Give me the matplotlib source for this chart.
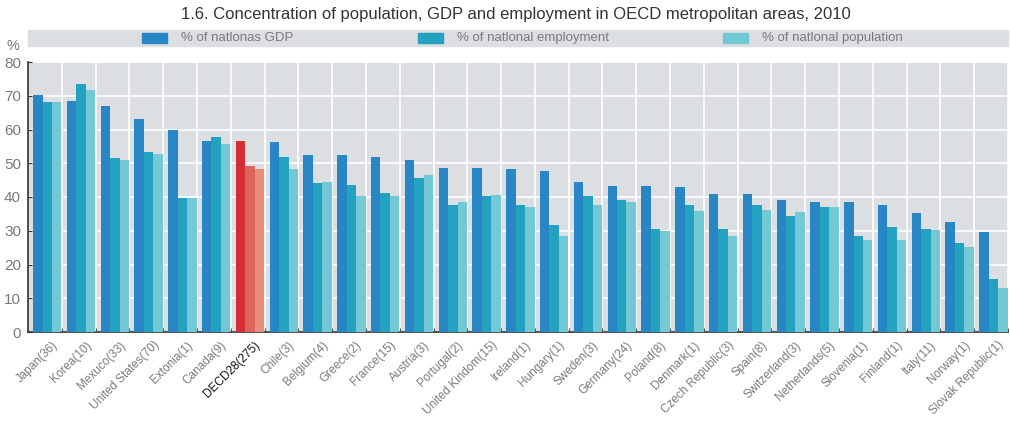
import numpy as np
import matplotlib
matplotlib.use("Agg")
import matplotlib.pyplot as plt
from matplotlib.patches import Rectangle

plt.rcParams["font.family"] = ["Liberation Sans", "DejaVu Sans"]

# data
countries = ["Japan(36)", "Korea(10)", "Mexuco(33)", "United States(70)", "Extonia(1)",
             "Canada(9)", "DECD28(275)", "Chile(3)", "Belgium(4)", "Greece(2)", "France(15)",
             "Austria(3)", "Portugal(2)", "United Kindom(15)", "Ireland(1)", "Hungary(1)",
             "Sweden(3)", "Germany(24)", "Poland(8)", "Denmark(1)", "Czech Republic(3)",
             "Spain(8)", "Switzerland(3)", "Netherlands(5)", "Slovenia(1)", "Finland(1)",
             "Italy(11)", "Norway(1)", "Slovak Republic(1)"]
gdp = [70.2, 68.4, 67.0, 63.1, 59.9, 56.6, 56.6, 56.3, 52.4, 52.4, 51.9, 51.0, 48.6, 48.6,
       48.3, 47.7, 44.4, 43.3, 43.3, 43.0, 40.9, 40.9, 39.1, 38.5, 38.5, 37.6, 35.3, 32.6, 29.6]
employment = [68.1, 73.5, 51.6, 53.3, 39.7, 57.8, 49.2, 51.9, 44.1, 43.6, 41.2, 45.6, 37.6, 40.3,
              37.6, 31.7, 40.3, 39.1, 30.5, 37.6, 30.5, 37.6, 34.4, 37.0, 28.4, 31.1, 30.5, 26.4, 15.7]
population = [68.1, 71.7, 51.0, 52.7, 39.7, 55.7, 48.3, 48.3, 44.4, 40.3, 40.3, 46.5, 38.5, 40.6,
              37.0, 28.4, 37.6, 38.5, 29.9, 35.9, 28.4, 36.1, 35.6, 37.0, 27.3, 27.3, 30.2, 25.2, 13.0]
series_names = ["% of natlonas GDP", "% of natlonal employment", "% of natlonal population"]
highlight = "DECD28(275)"

colors = ["#2986c4", "#22a1c0", "#72c8d5"]
hl_colors = ["#d42d33", "#da6558", "#ec8c7b"]
bg = "#dcdfe2"
txt = "#7a7a7a"

fig = plt.figure(figsize=(10.1, 4.24), dpi=100)
ax = fig.add_axes([28 / 1010, 1 - 332 / 424, 980 / 1010, 270 / 424])
ax.set_facecolor(bg)

x = np.arange(len(countries))
w = 0.28
shift = 0.07
for i, vals in enumerate([gdp, employment, population]):
    cols = [hl_colors[i] if c == highlight else colors[i] for c in countries]
    ax.bar(x + shift + (i - 1) * w, vals, width=w, color=cols, linewidth=0, zorder=3)

ax.set_xlim(-0.5, len(countries) - 0.5)
ax.set_ylim(0, 80)
ax.set_yticks(range(0, 81, 10))
ax.set_xticks(x + 0.5, minor=True)
ax.set_xticks(x + 0.2)
ax.set_xticklabels(countries, rotation=45, ha="right", rotation_mode="anchor",
                   fontsize=8.5, color=txt)
for lab in ax.get_xticklabels():
    if lab.get_text() == highlight:
        lab.set_color("#111111")
ax.tick_params(axis="x", which="major", length=0, pad=5)
ax.tick_params(axis="x", which="minor", length=3, direction="in", color="#333333")
ax.tick_params(axis="y", length=3, direction="in", color="#333333", labelsize=11,
               labelcolor=txt, pad=5)
ax.grid(axis="y", color="white", linewidth=1.2, zorder=1)
ax.grid(axis="x", which="minor", color="white", linewidth=1.2, zorder=1)
for s in ["top", "right"]:
    ax.spines[s].set_visible(False)
for s in ["left", "bottom"]:
    ax.spines[s].set_color("#333333")
    ax.spines[s].set_linewidth(1.2)

# legend band above the plot
fig.patches.append(Rectangle((28 / 1010, 1 - 46 / 424), 980 / 1010, 16 / 424,
                             transform=fig.transFigure, color=bg, zorder=0))
sw_x = [142, 418, 723]
for i, name in enumerate(series_names):
    fig.patches.append(Rectangle((sw_x[i] / 1010, 1 - 43 / 424), 25 / 1010, 10 / 424,
                                 transform=fig.transFigure, color=colors[i]))
    fig.text((sw_x[i] + 39) / 1010, 1 - 38 / 424, name, fontsize=9.5, color=txt,
             va="center", ha="left")

fig.text(13 / 1010, 1 - 46 / 424, "%", fontsize=10.5, color=txt, ha="center", va="center")
fig.text(516 / 1010, 1 - 15 / 424,
         "1.6. Concentration of population, GDP and employment in OECD metropolitan areas, 2010",
         fontsize=12, color="#333333", ha="center", va="center")

fig.savefig("out.png", dpi=100)
